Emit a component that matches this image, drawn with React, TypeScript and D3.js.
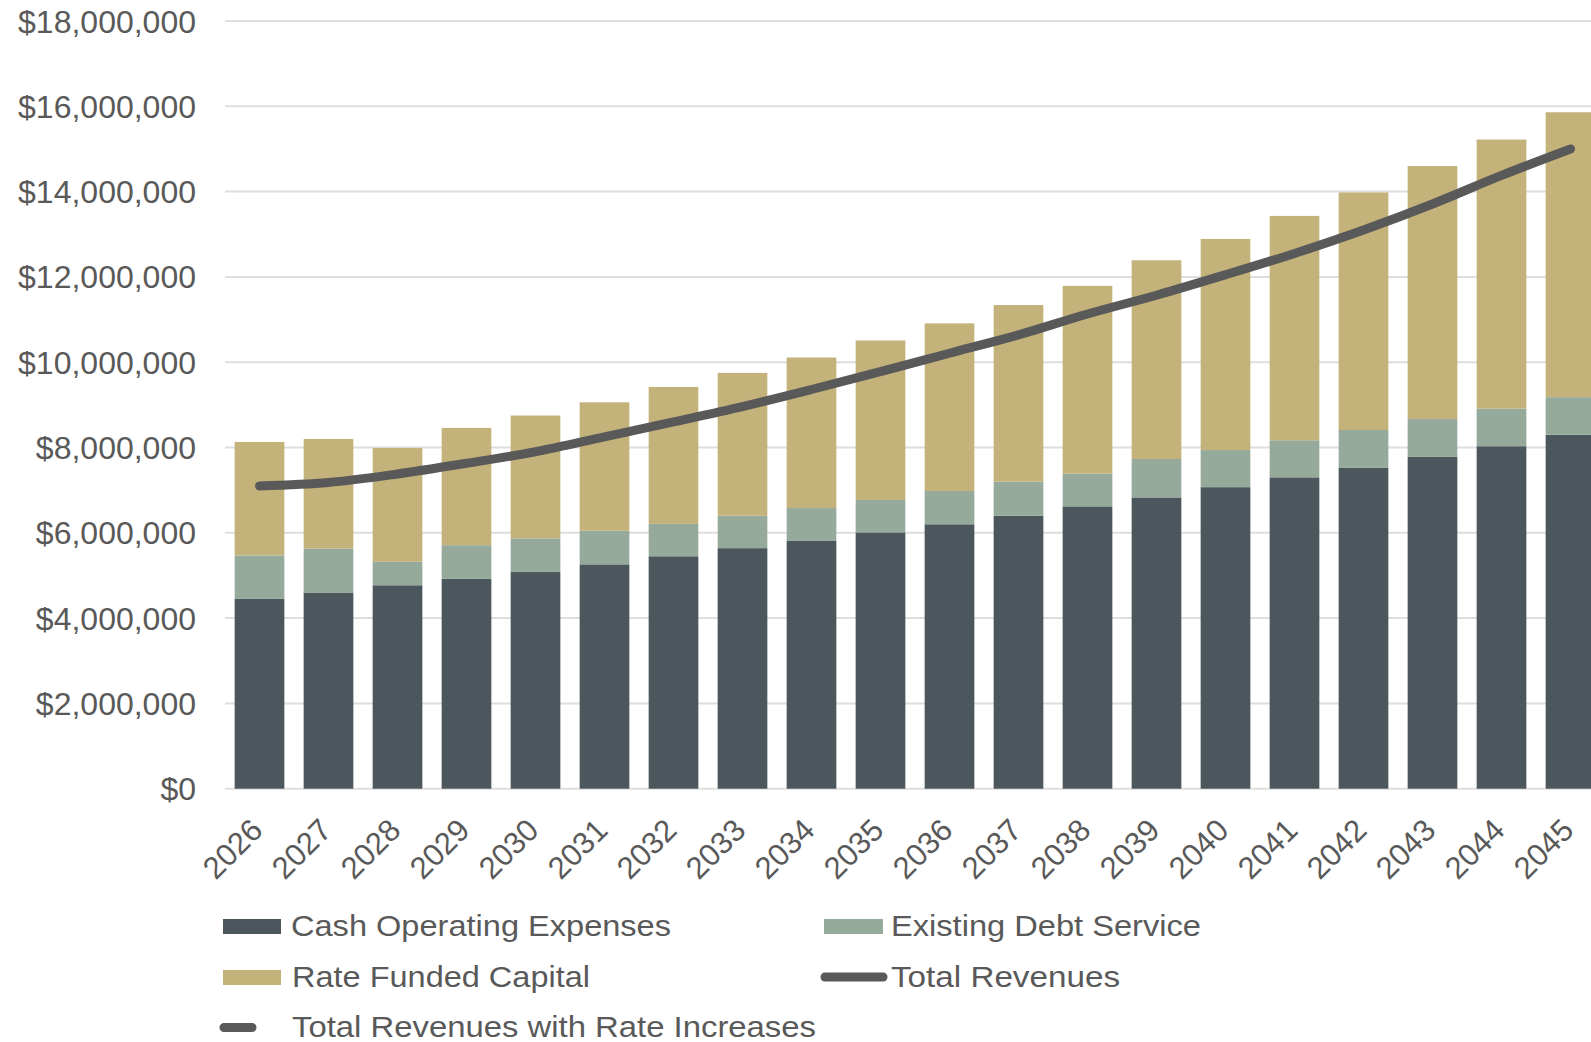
import React from "react";
import * as d3 from "d3";

const years = ["2026","2027","2028","2029","2030","2031","2032","2033","2034","2035","2036","2037","2038","2039","2040","2041","2042","2043","2044","2045"];
const cashOpex = [4.45,4.60,4.77,4.92,5.08,5.26,5.45,5.64,5.82,6.01,6.20,6.40,6.62,6.83,7.07,7.30,7.53,7.78,8.03,8.30];
const debtService = [1.02,1.03,0.55,0.79,0.79,0.79,0.76,0.76,0.76,0.76,0.78,0.80,0.77,0.90,0.87,0.87,0.88,0.89,0.88,0.88];
const rateCapital = [2.66,2.57,2.67,2.75,2.88,3.01,3.21,3.35,3.53,3.74,3.93,4.14,4.40,4.66,4.95,5.26,5.57,5.93,6.31,6.68];
const totalRevenues = [7.10,7.18,7.38,7.63,7.90,8.25,8.60,8.96,9.36,9.78,10.21,10.64,11.13,11.57,12.05,12.55,13.10,13.71,14.38,15.00];
const yTicks = [0,2,4,6,8,10,12,14,16,18];

const seriesKeys = ["opex","debt","capital"];
const seriesColors: Record<string,string> = { opex: "#4b565d", debt: "#96aa9b", capital: "#c4b27b" };
const lineColor = "#595959";
const textColor = "#595959";
const FONT = "'Liberation Sans', Arial, sans-serif";

export default function App() {
  const W = 1591, H = 1042;
  const x = d3.scaleBand<string>().domain(years).range([225, 225 + 20 * 69]).paddingInner(0.28).paddingOuter(0.14);
  const y = d3.scaleLinear().domain([0, 18]).range([788.7, 21]);

  const table = years.map((yr, i) => ({ year: yr, opex: cashOpex[i], debt: debtService[i], capital: rateCapital[i] }));
  const stacked = d3.stack<any>().keys(seriesKeys)(table);

  const line = d3.line<number>()
    .x((_, i) => (x(years[i]) as number) + x.bandwidth() / 2)
    .y((d) => y(d))
    .curve(d3.curveCatmullRom.alpha(0.5));

  return (
    <div style={{ position: "absolute", left: 0, top: 0 }}>
      <svg width={W} height={H} style={{ display: "block", background: "#fff" }}>
        {yTicks.map((t) => (
          <g key={t}>
            <line x1={225} x2={W} y1={y(t)} y2={y(t)} stroke="#dedede" strokeWidth={2} />
            <text x={196} y={y(t)} dy="0.36em" textAnchor="end" fontFamily={FONT} fontSize={32} fill={textColor}>
              {"$" + d3.format(",")(t * 1000000)}
            </text>
          </g>
        ))}
        {stacked.map((s) => (
          <g key={s.key} fill={seriesColors[s.key]}>
            {s.map((d, i) => (
              <rect key={i} x={x(years[i])} width={x.bandwidth()} y={y(d[1])} height={y(d[0]) - y(d[1])} />
            ))}
          </g>
        ))}
        <path d={line(totalRevenues) || ""} fill="none" stroke={lineColor} strokeWidth={9} strokeLinecap="round" strokeLinejoin="round" />
        {years.map((yr) => {
          const cx = (x(yr) as number) + x.bandwidth() / 2 + 5;
          const cy = 832;
          return (
            <text key={yr} x={cx} y={cy} textAnchor="end" transform={`rotate(-45 ${cx} ${cy})`} fontFamily={FONT} fontSize={31} fill={textColor}>
              {yr}
            </text>
          );
        })}
        {/* Legend */}
        <g fontFamily={FONT} fontSize={29} fill={textColor}>
          <rect x={223} y={919} width={58} height={15} fill={seriesColors.opex} />
          <text x={291} y={936} textLength={380} lengthAdjust="spacingAndGlyphs">Cash Operating Expenses</text>
          <rect x={824} y={919} width={59} height={15} fill={seriesColors.debt} />
          <text x={891} y={936} textLength={310} lengthAdjust="spacingAndGlyphs">Existing Debt Service</text>
          <rect x={223} y={970} width={58} height={15} fill={seriesColors.capital} />
          <text x={292} y={986.5} textLength={298} lengthAdjust="spacingAndGlyphs">Rate Funded Capital</text>
          <line x1={825} x2={883} y1={977} y2={977} stroke={lineColor} strokeWidth={9} strokeLinecap="round" />
          <text x={891} y={986.5} textLength={229} lengthAdjust="spacingAndGlyphs">Total Revenues</text>
          <line x1={224} x2={252} y1={1027.5} y2={1027.5} stroke={lineColor} strokeWidth={9} strokeLinecap="round" />
          <text x={292} y={1037} textLength={524} lengthAdjust="spacingAndGlyphs">Total Revenues with Rate Increases</text>
        </g>
      </svg>
    </div>
  );
}
